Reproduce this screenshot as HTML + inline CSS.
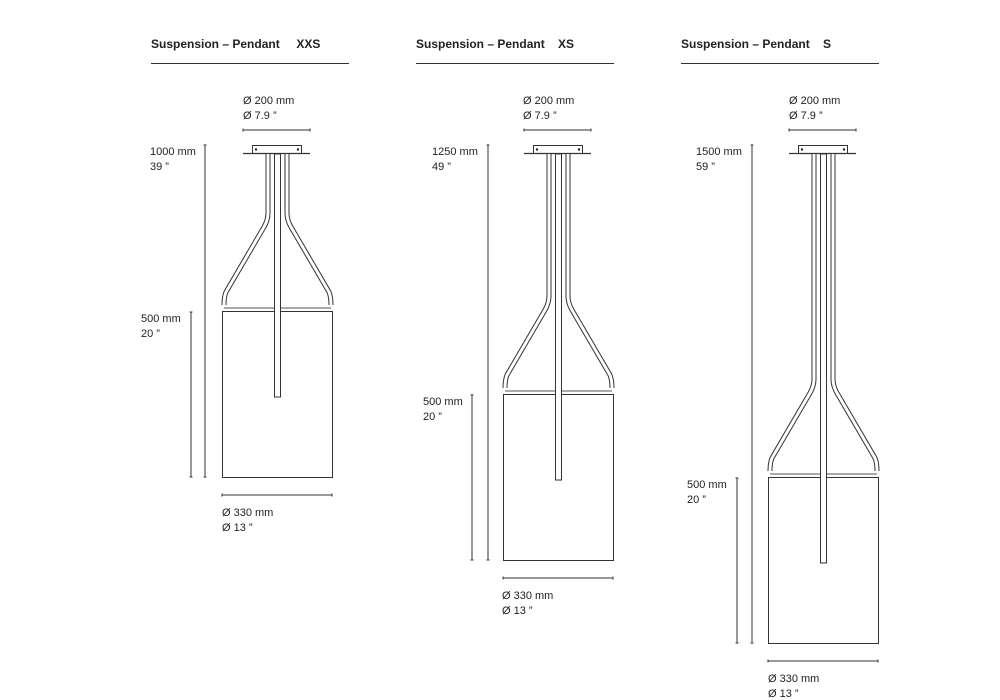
<!DOCTYPE html>
<html><head><meta charset="utf-8"><style>
body{margin:0;background:#fff}
svg{display:block}
text{font-family:"Liberation Sans",sans-serif;fill:#222}
.h{font-size:12px;font-weight:bold;white-space:pre}
.t{font-size:11px}
</style></head><body>
<svg width="1000" height="700" viewBox="0 0 1000 700">
<text class="h" x="151" y="48" xml:space="preserve">Suspension – Pendant     XXS</text>
<line x1="151" y1="63.5" x2="349" y2="63.5" stroke="#333"/>
<text class="h" x="416" y="48" xml:space="preserve">Suspension – Pendant    XS</text>
<line x1="416" y1="63.5" x2="614" y2="63.5" stroke="#333"/>
<text class="h" x="681" y="48" xml:space="preserve">Suspension – Pendant    S</text>
<line x1="681" y1="63.5" x2="879" y2="63.5" stroke="#333"/>

<g>
<text class="t" x="243" y="104">Ø 200 mm</text><text class="t" x="243" y="119">Ø 7.9 ”</text>
<path d="M243 130H310M243 128.5V131.5M310 128.5V131.5" stroke="#333" fill="none"/>
<text class="t" x="150" y="155">1000 mm</text><text class="t" x="150" y="170">39 ”</text>
<path d="M205 145V477M203.5 145H206.5M203.5 477H206.5" stroke="#333" fill="none"/>
<text class="t" x="141" y="322">500 mm</text><text class="t" x="141" y="337">20 ”</text>
<path d="M191 312V477M189.5 312H192.5M189.5 477H192.5" stroke="#333" fill="none"/>
<rect x="252.5" y="145.5" width="49" height="8" fill="#fff" stroke="#333"/>
<circle cx="256" cy="149.5" r="1.2" fill="#222"/><circle cx="298" cy="149.5" r="1.2" fill="#222"/>
<line x1="243" y1="153.5" x2="310" y2="153.5" stroke="#333" stroke-width="1.3"/>
<path d="M268 154 V213 Q268 220 264 227 L226 292 Q224 297 224 305 M287 154 V213 Q287 220 291 227 L329 292 Q331 297 331 305" fill="none" stroke="#333" stroke-width="5"/>
<path d="M268 154 V213 Q268 220 264 227 L226 292 Q224 297 224 305 M287 154 V213 Q287 220 291 227 L329 292 Q331 297 331 305" fill="none" stroke="#fff" stroke-width="3"/>
<line x1="224" y1="308" x2="331" y2="308" stroke="#555"/>
<rect x="222.5" y="311.5" width="110" height="166" fill="#fff" stroke="#333"/>
<rect x="274.5" y="154" width="6" height="243" fill="#fff" stroke="#333"/>
<path d="M222 495H332M222 493.5V496.5M332 493.5V496.5" stroke="#333" fill="none"/>
<text class="t" x="222" y="516">Ø 330 mm</text><text class="t" x="222" y="531">Ø 13 ”</text>
</g>

<g transform="translate(281,0)">
<text class="t" x="242" y="104">Ø 200 mm</text><text class="t" x="242" y="119">Ø 7.9 ”</text>
<path d="M243 130H310M243 128.5V131.5M310 128.5V131.5" stroke="#333" fill="none"/>
<text class="t" x="151" y="155">1250 mm</text><text class="t" x="151" y="170">49 ”</text>
<path d="M207 145V560M205.5 145H208.5M205.5 560H208.5" stroke="#333" fill="none"/>
<text class="t" x="142" y="405">500 mm</text><text class="t" x="142" y="420">20 ”</text>
<path d="M191 395V560M189.5 395H192.5M189.5 560H192.5" stroke="#333" fill="none"/>
<rect x="252.5" y="145.5" width="49" height="8" fill="#fff" stroke="#333"/>
<circle cx="256" cy="149.5" r="1.2" fill="#222"/><circle cx="298" cy="149.5" r="1.2" fill="#222"/>
<line x1="243" y1="153.5" x2="310" y2="153.5" stroke="#333" stroke-width="1.3"/>
<path d="M268 154 V296 Q268 303 264 310 L226 375 Q224 380 224 388 M287 154 V296 Q287 303 291 310 L329 375 Q331 380 331 388" fill="none" stroke="#333" stroke-width="5"/>
<path d="M268 154 V296 Q268 303 264 310 L226 375 Q224 380 224 388 M287 154 V296 Q287 303 291 310 L329 375 Q331 380 331 388" fill="none" stroke="#fff" stroke-width="3"/>
<line x1="224" y1="391" x2="331" y2="391" stroke="#555"/>
<rect x="222.5" y="394.5" width="110" height="166" fill="#fff" stroke="#333"/>
<rect x="274.5" y="154" width="6" height="326" fill="#fff" stroke="#333"/>
<path d="M222 578H332M222 576.5V579.5M332 576.5V579.5" stroke="#333" fill="none"/>
<text class="t" x="221" y="599">Ø 330 mm</text><text class="t" x="221" y="614">Ø 13 ”</text>
</g>

<g transform="translate(546,0)">
<text class="t" x="243" y="104">Ø 200 mm</text><text class="t" x="243" y="119">Ø 7.9 ”</text>
<path d="M243 130H310M243 128.5V131.5M310 128.5V131.5" stroke="#333" fill="none"/>
<text class="t" x="150" y="155">1500 mm</text><text class="t" x="150" y="170">59 ”</text>
<path d="M206 145V643M204.5 145H207.5M204.5 643H207.5" stroke="#333" fill="none"/>
<text class="t" x="141" y="488">500 mm</text><text class="t" x="141" y="503">20 ”</text>
<path d="M191 478V643M189.5 478H192.5M189.5 643H192.5" stroke="#333" fill="none"/>
<rect x="252.5" y="145.5" width="49" height="8" fill="#fff" stroke="#333"/>
<circle cx="256" cy="149.5" r="1.2" fill="#222"/><circle cx="298" cy="149.5" r="1.2" fill="#222"/>
<line x1="243" y1="153.5" x2="310" y2="153.5" stroke="#333" stroke-width="1.3"/>
<path d="M268 154 V379 Q268 386 264 393 L226 458 Q224 463 224 471 M287 154 V379 Q287 386 291 393 L329 458 Q331 463 331 471" fill="none" stroke="#333" stroke-width="5"/>
<path d="M268 154 V379 Q268 386 264 393 L226 458 Q224 463 224 471 M287 154 V379 Q287 386 291 393 L329 458 Q331 463 331 471" fill="none" stroke="#fff" stroke-width="3"/>
<line x1="224" y1="474" x2="331" y2="474" stroke="#555"/>
<rect x="222.5" y="477.5" width="110" height="166" fill="#fff" stroke="#333"/>
<rect x="274.5" y="154" width="6" height="409" fill="#fff" stroke="#333"/>
<path d="M222 661H332M222 659.5V662.5M332 659.5V662.5" stroke="#333" fill="none"/>
<text class="t" x="222" y="682">Ø 330 mm</text><text class="t" x="222" y="697">Ø 13 ”</text>
</g>
</svg>
</body></html>
